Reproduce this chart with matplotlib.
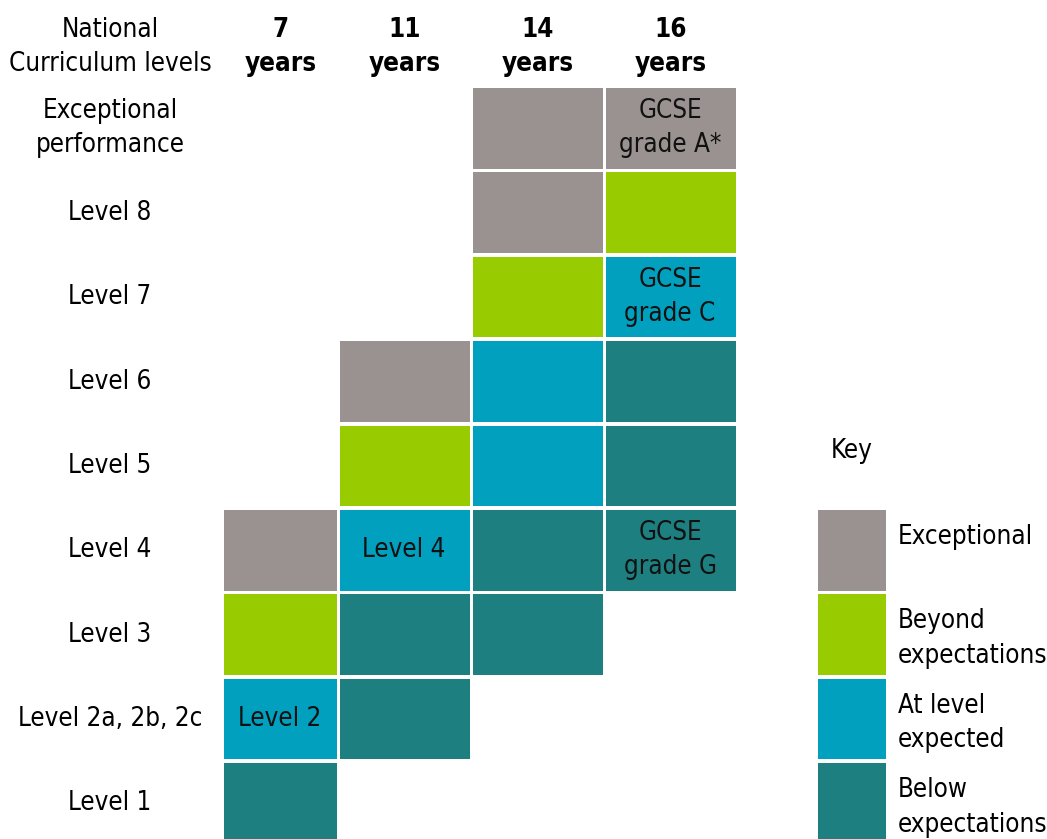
import matplotlib
matplotlib.use("Agg")
import matplotlib.pyplot as plt

# ---- data ----
row_labels = ["Exceptional\nperformance", "Level 8", "Level 7", "Level 6", "Level 5",
              "Level 4", "Level 3", "Level 2a, 2b, 2c", "Level 1"]
col_labels = ["7\nyears", "11\nyears", "14\nyears", "16\nyears"]
header_label = "National\nCurriculum levels"

categories = ["Exceptional", "Beyond\nexpectations", "At level\nexpected", "Below\nexpectations"]
cat_colors = ["#9A9291", "#99CC00", "#00A0BE", "#1E7F80"]

# cells per column: (row label, category index, cell text)
col_7 = [("Level 4", 0, ""), ("Level 3", 1, ""), ("Level 2a, 2b, 2c", 2, "Level 2"), ("Level 1", 3, "")]
col_11 = [("Level 6", 0, ""), ("Level 5", 1, ""), ("Level 4", 2, "Level 4"),
          ("Level 3", 3, ""), ("Level 2a, 2b, 2c", 3, "")]
col_14 = [("Exceptional\nperformance", 0, ""), ("Level 8", 0, ""), ("Level 7", 1, ""),
          ("Level 6", 2, ""), ("Level 5", 2, ""), ("Level 4", 3, ""), ("Level 3", 3, "")]
col_16 = [("Exceptional\nperformance", 0, "GCSE\ngrade A*"), ("Level 8", 1, ""),
          ("Level 7", 2, "GCSE\ngrade C"), ("Level 6", 3, ""), ("Level 5", 3, ""),
          ("Level 4", 3, "GCSE\ngrade G")]
columns = [col_7, col_11, col_14, col_16]

# ---- layout (pixels) ----
W, H = 1047, 839
col_left = [224, 340, 473, 606]
col_width = [113, 130, 130, 130]
row_top0 = 88
row_pitch = 84.4
cell_h = 80.6
label_x = 110
key_x, key_w = 818, 68
key_rows = ["Level 4", "Level 3", "Level 2a, 2b, 2c", "Level 1"]

FS = 18.6
LS = 1.42
font = dict(family="DejaVu Sans", stretch="condensed")

fig = plt.figure(figsize=(W / 100, H / 100), dpi=100)
ax = fig.add_axes([0, 0, 1, 1])
ax.set_xlim(0, W)
ax.set_ylim(H, 0)
ax.axis("off")

def row_top(label):
    return row_top0 + row_labels.index(label) * row_pitch

# header
ax.text(label_x, 47, header_label, ha="center", va="center", fontsize=FS,
        linespacing=LS, **font)
for i, cl in enumerate(col_labels):
    ax.text(col_left[i] + col_width[i] / 2, 47, cl, ha="center", va="center",
            fontsize=FS, fontweight="bold", linespacing=LS, **font)

# row labels
for lab in row_labels:
    ax.text(label_x, row_top(lab) + cell_h / 2, lab, ha="center", va="center",
            fontsize=FS, linespacing=LS, **font)

# cells
for i, cells in enumerate(columns):
    for lab, cat, txt in cells:
        top = row_top(lab)
        ax.bar(col_left[i], cell_h, bottom=top, width=col_width[i], align="edge",
               color=cat_colors[cat], edgecolor="none")
        if txt:
            ax.text(col_left[i] + col_width[i] / 2 - 1, top + cell_h / 2, txt,
                    ha="center", va="center", fontsize=FS, linespacing=LS,
                    color="#111111", **font)

# key
ax.text(key_x + key_w / 2, 451, "Key", ha="center", va="center", fontsize=FS, **font)
for lab, cat, col in zip(key_rows, categories, cat_colors):
    top = row_top(lab)
    ax.bar(key_x, cell_h, bottom=top, width=key_w, align="edge", color=col,
           edgecolor="none")
    ax.text(898, top + 14, cat, ha="left", va="top", fontsize=FS,
            linespacing=LS, **font)

fig.savefig("out.png", dpi=100)
